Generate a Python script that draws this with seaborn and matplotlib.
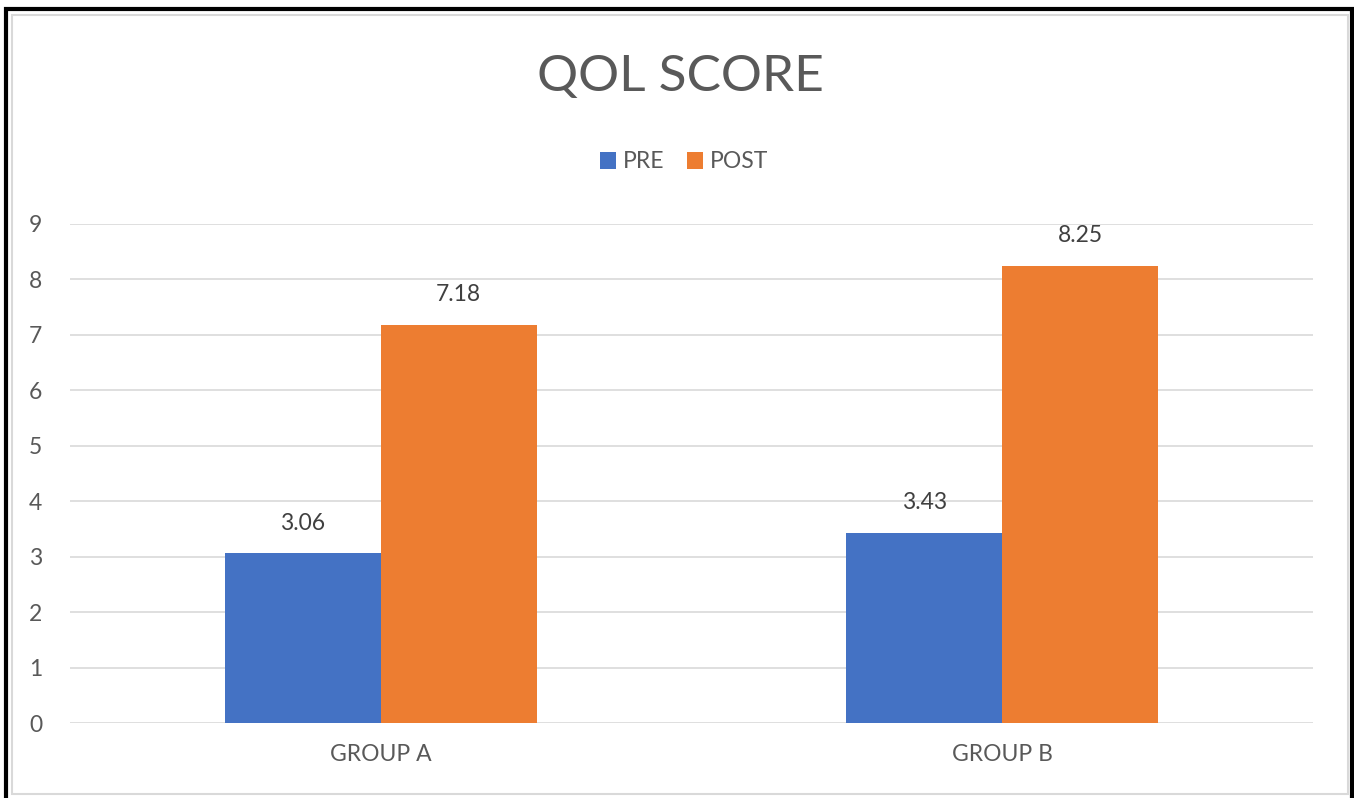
import matplotlib
matplotlib.use("Agg")
import matplotlib.pyplot as plt
from matplotlib.patches import Rectangle
import pandas as pd
import seaborn as sns

groups = ["GROUP A", "GROUP B"]
phases = ["PRE", "POST"]
pre_scores = [3.06, 3.43]
post_scores = [7.18, 8.25]
y_ticks = list(range(0, 10))

df = pd.DataFrame({
    "group": groups * 2,
    "phase": ["PRE"] * len(groups) + ["POST"] * len(groups),
    "score": pre_scores + post_scores,
})

sns.set_style("white")
plt.rcParams["font.family"] = ["Lato", "DejaVu Sans"]

grey = "#595959"
fig = plt.figure(figsize=(13.54, 7.98), dpi=100)
ax = fig.add_axes([70 / 1354, 75 / 798, 1243 / 1354, 499 / 798])

sns.barplot(
    data=df, x="group", y="score", hue="phase", order=groups, hue_order=phases,
    palette=["#4472C4", "#ED7D31"], width=0.502, saturation=1, ax=ax, zorder=3,
    linewidth=0,
)

for cont in ax.containers:
    ax.bar_label(cont, fmt="%.2f", padding=14, fontsize=16.5, color="#404040")

ax.set_ylim(0, 9)
ax.set_xlim(-0.5, 1.5)
ax.set_yticks(y_ticks)
ax.yaxis.grid(True, color="#D9D9D9", linewidth=1.2, zorder=0)
ax.set_axisbelow(True)
for s in ax.spines.values():
    s.set_visible(False)
ax.set_xlabel("")
ax.set_ylabel("")
ax.tick_params(axis="both", length=0, labelsize=16.5, labelcolor=grey)
ax.tick_params(axis="y", pad=20)
ax.tick_params(axis="x", pad=15)

ax.legend(
    loc="center", bbox_to_anchor=(684 / 1354, 1 - 162 / 798), bbox_transform=fig.transFigure,
    ncol=2, frameon=False, fontsize=16.5, labelcolor=grey, handlelength=0.7, handleheight=0.7,
    handletextpad=0.3, columnspacing=1.0,
)

fig.text(680 / 1354, 1 - 77 / 798, "QOL SCORE", ha="center", va="center",
         fontsize=37, color=grey)

# outer frame like the screenshot
fig.patches.append(Rectangle((6 / 1354, -0.02), 1346 / 1354, 1 - 9 / 798 + 0.02,
                             transform=fig.transFigure, fill=False,
                             edgecolor="black", linewidth=3))
fig.patches.append(Rectangle((12 / 1354, 4 / 798), 1336 / 1354, 1 - 19 / 798,
                             transform=fig.transFigure, fill=False,
                             edgecolor="#D9D9D9", linewidth=1.5))

fig.savefig("out.png", dpi=100)
